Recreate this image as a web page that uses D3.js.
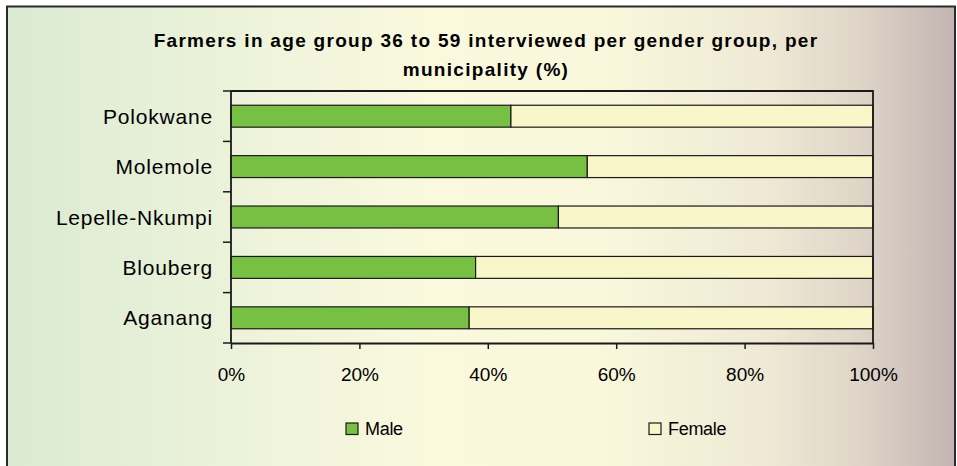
<!DOCTYPE html>
<html>
<head>
<meta charset="utf-8">
<script src="https://cdn.jsdelivr.net/npm/d3@7"></script>
<style>
  html, body { margin: 0; padding: 0; background: #ffffff; }
  svg { display: block; }
  text { font-family: "Liberation Sans", Arial, sans-serif; fill: #000; }
</style>
</head>
<body>
<script>
const categories = ["Polokwane", "Molemole", "Lepelle-Nkumpi", "Blouberg", "Aganang"];
const seriesNames = ["Male", "Female"];
const maleValues = [43.6, 55.5, 51.0, 38.1, 37.1];
const femaleValues = [56.4, 44.5, 49.0, 61.9, 62.9];
const xTickValues = [0, 20, 40, 60, 80, 100];
const titleLines = ["Farmers in age group 36 to 59 interviewed per gender group, per", "municipality (%)"];
const seriesColors = ["#78c044", "#f9f7ca"];

const W = 957, H = 466;
const svg = d3.select("body").append("svg").attr("width", W).attr("height", H);

// background gradient
const defs = svg.append("defs");
const grad = defs.append("linearGradient").attr("id", "bg").attr("x1", "0").attr("x2", "1").attr("y1", "0").attr("y2", "0");
[[0, "#dbead3"], [0.25, "#edf3da"], [0.45, "#faf9de"], [0.62, "#f9f8dc"], [0.8, "#efe9d5"], [0.9, "#ded5c7"], [1, "#c3b4b2"]]
  .forEach(([o, c]) => grad.append("stop").attr("offset", o).attr("stop-color", c));

svg.append("rect").attr("x", 7).attr("y", 6.5).attr("width", 948).attr("height", 470)
  .attr("fill", "url(#bg)").attr("stroke", "#2b2b2b").attr("stroke-width", 2);

const margin = { left: 231, right: 873, top: 91, bottom: 343 };
const x = d3.scaleLinear().domain([0, 100]).range([margin.left, margin.right]);
const y = d3.scaleBand().domain(categories).range([margin.top, margin.bottom])
  .paddingInner(0.565).paddingOuter(0.2825);

// stacked data
const rows = categories.map((c, i) => ({ cat: c, Male: maleValues[i], Female: femaleValues[i] }));
const stack = d3.stack().keys(seriesNames)(rows);

svg.append("g").selectAll("g").data(stack).join("g")
  .attr("fill", (d, i) => seriesColors[i])
  .selectAll("rect").data(d => d).join("rect")
  .attr("x", d => x(d[0]))
  .attr("width", d => x(d[1]) - x(d[0]))
  .attr("y", d => y(d.data.cat))
  .attr("height", y.bandwidth())
  .attr("stroke", "#1a1a1a").attr("stroke-width", 1.2);

// plot frame (top, right)
svg.append("path")
  .attr("d", `M${margin.left},${margin.top}H${margin.right}V${margin.bottom}`)
  .attr("fill", "none").attr("stroke", "#1a1a1a").attr("stroke-width", 1.8);

// x axis
const xAxis = d3.axisBottom(x).tickValues(xTickValues).tickFormat(d => d + "%").tickSize(6).tickSizeOuter(0);
const gx = svg.append("g").attr("transform", `translate(0,${margin.bottom})`).call(xAxis);
gx.select(".domain").attr("stroke", "#1a1a1a").attr("stroke-width", 1.8);
gx.selectAll(".tick line").attr("stroke", "#1a1a1a").attr("stroke-width", 1.5);
gx.selectAll(".tick text").attr("font-size", 19).attr("font-family", "Liberation Sans, Arial, sans-serif")
  .attr("fill", "#000").attr("dy", null).attr("y", 38);

// y axis: line + ticks at band boundaries
const step = y.step();
const yAxisG = svg.append("g");
yAxisG.append("line").attr("x1", margin.left).attr("x2", margin.left)
  .attr("y1", margin.top).attr("y2", margin.bottom)
  .attr("stroke", "#1a1a1a").attr("stroke-width", 1.8);
const boundaries = d3.range(categories.length + 1).map(i => margin.top + i * step);
yAxisG.selectAll("line.tk").data(boundaries).join("line").attr("class", "tk")
  .attr("x1", margin.left - 8).attr("x2", margin.left)
  .attr("y1", d => d).attr("y2", d => d)
  .attr("stroke", "#1a1a1a").attr("stroke-width", 1.5);
yAxisG.selectAll("text").data(categories).join("text")
  .attr("x", 213)
  .attr("y", d => y(d) + y.bandwidth() / 2 + 7.5)
  .attr("text-anchor", "end")
  .attr("font-size", 21)
  .attr("letter-spacing", 0.8)
  .text(d => d);

// title
svg.append("g").selectAll("text").data(titleLines).join("text")
  .attr("x", 486)
  .attr("y", (d, i) => 47 + i * 29)
  .attr("text-anchor", "middle")
  .attr("font-size", 19)
  .attr("font-weight", "bold")
  .attr("letter-spacing", 1.3)
  .text(d => d);

// legend
const legendX = [346, 649];
const lg = svg.append("g").selectAll("g").data(seriesNames).join("g")
  .attr("transform", (d, i) => `translate(${legendX[i]},423)`);
lg.append("rect").attr("width", 12).attr("height", 11.5)
  .attr("fill", (d, i) => seriesColors[i]).attr("stroke", "#1a1a1a").attr("stroke-width", 1.2);
lg.append("text").attr("x", 19).attr("y", 12).attr("font-size", 18).attr("letter-spacing", -0.3).text(d => d);
</script>
</body>
</html>
